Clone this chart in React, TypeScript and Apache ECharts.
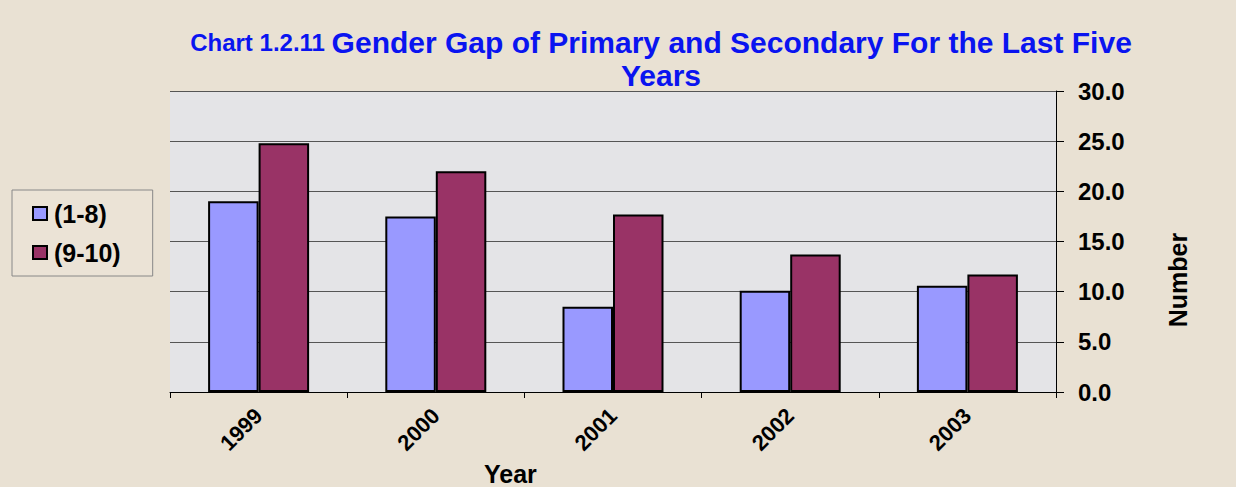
import React, { useEffect, useRef } from "react";
import * as echarts from "echarts";

const years = ["1999", "2000", "2001", "2002", "2003"];
const primary = [19.0, 17.5, 8.5, 10.1, 10.6];
const secondary = [24.8, 22.0, 17.7, 13.7, 11.7];
const seriesNames = ["(1-8)", "(9-10)"];

export default function App() {
  const ref = useRef<HTMLDivElement>(null);
  useEffect(() => {
    const chart = echarts.init(ref.current!, null, { renderer: "svg" });
    const font = "Liberation Sans, Arial, sans-serif";
    chart.setOption({
      animation: false,
      backgroundColor: "#e9e1d3",
      title: {
        text: "{a|Chart 1.2.11 }{b|Gender Gap of Primary and Secondary For the Last Five}\n{b|Years}",
        left: 656,
        textAlign: "center",
        top: 21,
        textStyle: {
          rich: {
            a: { fontSize: 24, fontWeight: "bold", color: "#0a14f0", fontFamily: font, lineHeight: 33 },
            b: { fontSize: 30, fontWeight: "bold", color: "#0a14f0", fontFamily: font, lineHeight: 33 },
          },
        },
      },
      legend: {
        orient: "vertical",
        left: 12,
        top: 190,
        data: seriesNames,
        backgroundColor: "#ebe3d6",
        borderColor: "#888",
        borderWidth: 1,
        padding: [11, 32, 11, 20],
        itemGap: 14,
        itemWidth: 14,
        itemHeight: 13,
        icon: "rect",
        textStyle: { fontSize: 25, fontWeight: "bold", color: "#000", fontFamily: font, padding: [0, 0, 0, 2] },
      },
      grid: {
        left: 170,
        right: 180,
        top: 91,
        bottom: 95,
        show: true,
        backgroundColor: "#e4e4e7",
        borderWidth: 0,
      },
      xAxis: {
        type: "category",
        data: years,
        axisLine: { lineStyle: { color: "#000", width: 1 } },
        axisTick: { show: true, length: 6, lineStyle: { color: "#000" } },
        axisLabel: {
          rotate: 45,
          fontSize: 22,
          fontWeight: "bold",
          color: "#000",
          fontFamily: font,
          margin: 20,
        },
      },
      yAxis: {
        type: "value",
        position: "right",
        min: 0,
        max: 30,
        interval: 5,
        axisLine: { show: true, lineStyle: { color: "#000" } },
        axisTick: { show: true, length: 8, lineStyle: { color: "#000" } },
        axisLabel: {
          formatter: (v: number) => v.toFixed(1),
          fontSize: 24,
          fontWeight: "bold",
          color: "#000",
          fontFamily: font,
          margin: 22,
        },
        splitLine: { show: true, lineStyle: { color: "#555", width: 1 } },
      },
      series: [
        {
          name: seriesNames[0],
          type: "bar",
          data: primary,
          barGap: "0%",
          barCategoryGap: "43%",
          itemStyle: { color: "#9999ff", borderColor: "#000", borderWidth: 2 },
        },
        {
          name: seriesNames[1],
          type: "bar",
          data: secondary,
          itemStyle: { color: "#993366", borderColor: "#000", borderWidth: 2 },
        },
      ],
      graphic: [
        {
          type: "text",
          left: 484,
          top: 461,
          style: { text: "Year", fontSize: 25, fontWeight: "bold", fill: "#000", fontFamily: font },
        },
        {
          type: "text",
          x: 1178,
          y: 280,
          rotation: Math.PI / 2,
          style: {
            text: "Number",
            fontSize: 25,
            fontWeight: "bold",
            fill: "#000",
            fontFamily: font,
            align: "center",
            verticalAlign: "middle",
          },
        },
      ],
    });
    return () => chart.dispose();
  }, []);
  return (
    <div
      ref={ref}
      style={{ position: "fixed", left: 0, top: 0, width: 1236, height: 487 }}
    />
  );
}
